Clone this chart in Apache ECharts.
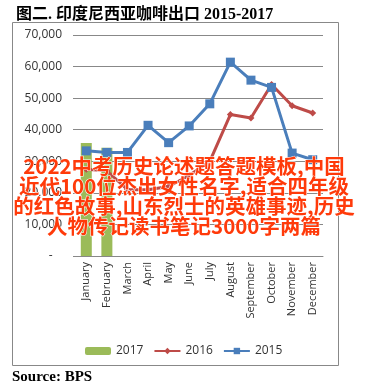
<!DOCTYPE html>
<html>
<head>
<meta charset="utf-8">
<script src="https://cdn.jsdelivr.net/npm/echarts@6/dist/echarts.min.js"></script>
<style>
html,body{margin:0;padding:0;background:#fff;}
#c{width:389px;height:388px;}
</style>
</head>
<body>
<div id="c"></div>
<script>
var months = ['January','February','March','April','May','June','July','August','September','October','November','December'];
var v2017 = [35800, 34300, null, null, null, null, null, null, null, null, null, null];
var v2016 = [27500, 27000, 21000, 21000, 22000, 25500, 30000, 44800, 43700, 54300, 47600, 45300];
var v2015 = [33300, 32800, 32800, 41400, 35900, 41200, 48200, 61400, 55700, 53400, 32600, 30500];
var titleText = '图二. 印度尼西亚咖啡出口 2015-2017';
var sourceText = 'Source: BPS';
var overlayLines = ['2022中考历史论述题答题模板,中国', '近代100位杰出女性名字,适合四年级', '的红色故事,山东烈士的英雄事迹,历史', '人物传记读书笔记3000字两篇'];

var chart = echarts.init(document.getElementById('c'), null, {renderer: 'canvas'});
var overlay = overlayLines.map(function (t, i) {
  return {
    type: 'text', z: 100, x: 184, y: 166 + i * 20,
    style: {
      text: t, fill: '#ff3a0a', stroke: '#ffffff', lineWidth: 1,
      fontFamily: 'Noto Sans CJK SC', fontSize: 20.5, fontWeight: 'bold',
      align: 'center', verticalAlign: 'middle'
    }
  };
});

var option = {
  animation: false,
  backgroundColor: '#fff',
  title: {
    text: titleText, left: 11, top: 2,
    textStyle: {fontFamily: 'Liberation Serif, Noto Sans CJK SC', fontSize: 16, fontWeight: 'bold', color: '#000'}
  },
  legend: {
    left: 80, top: 340, itemWidth: 26, itemHeight: 8, itemGap: 10,
    data: ['2017', '2016', '2015'],
    textStyle: {fontFamily: 'Open Sans, Liberation Sans', fontSize: 12, color: '#333'}
  },
  grid: {left: 76, right: 66, top: 35, bottom: 132, containLabel: false},
  xAxis: {
    type: 'category', data: months, boundaryGap: true,
    axisLine: {lineStyle: {color: '#888', width: 1}},
    axisTick: {show: false},
    axisLabel: {rotate: 90, fontFamily: 'Open Sans, Liberation Sans', fontSize: 11, color: '#333', margin: 6, interval: 0}
  },
  yAxis: {
    type: 'value', min: 0, max: 70000, interval: 10000,
    axisLine: {show: false},
    axisTick: {show: true, length: 3, lineStyle: {color: '#888'}},
    splitLine: {lineStyle: {color: '#888', width: 1}},
    axisLabel: {
      fontFamily: 'Open Sans, Liberation Sans', fontSize: 12, color: '#333', margin: 14,
      formatter: function (v) { return v === 0 ? '-   ' : v.toLocaleString('en-US'); }
    }
  },
  series: [
    {name: '2017', type: 'bar', data: v2017, barWidth: 11, itemStyle: {color: '#9bbb59'}, z: 1},
    {name: '2016', type: 'line', data: v2016, symbol: 'diamond', symbolSize: 7,
      lineStyle: {color: '#be4b48', width: 3}, itemStyle: {color: '#be4b48'}, z: 2},
    {name: '2015', type: 'line', data: v2015, symbol: 'rect', symbolSize: 9,
      lineStyle: {color: '#4a7ebb', width: 3}, itemStyle: {color: '#4a7ebb'}, z: 3}
  ],
  graphic: [
    {type: 'rect', shape: {x: 12.5, y: 22.5, width: 326, height: 343}, style: {fill: 'none', stroke: '#888', lineWidth: 1}, z: -1},
    {type: 'text', x: 12, y: 377, style: {text: sourceText, fontFamily: 'Liberation Serif', fontSize: 15, fontWeight: 'bold', fill: '#000', verticalAlign: 'middle'}}
  ].concat(overlay)
};
chart.setOption(option);
</script>
</body>
</html>
